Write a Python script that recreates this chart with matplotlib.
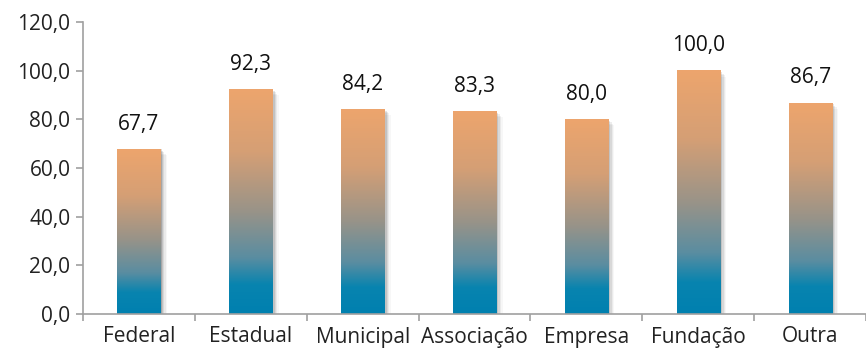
import numpy as np
import matplotlib
matplotlib.use("Agg")
import matplotlib.pyplot as plt
from matplotlib.colors import LinearSegmentedColormap
from matplotlib.patches import Rectangle

# --- data ---
categories = ["Federal", "Estadual", "Municipal", "Associação", "Empresa", "Fundação", "Outra"]
values = [67.7, 92.3, 84.2, 83.3, 80.0, 100.0, 86.7]
labels = ["67,7", "92,3", "84,2", "83,3", "80,0", "100,0", "86,7"]
yticks = [0, 20, 40, 60, 80, 100, 120]
ytick_labels = ["0,0", "20,0", "40,0", "60,0", "80,0", "100,0", "120,0"]

plt.rcParams['font.family'] = ['Open Sans', 'DejaVu Sans']

# --- gradient (bottom -> top) ---
grad = LinearSegmentedColormap.from_list("bar", [
    (0.00, "#0080B0"),
    (0.13, "#0884AF"),
    (0.25, "#5A8DA1"),
    (0.45, "#979389"),
    (0.72, "#D59F75"),
    (1.00, "#EDA56D"),
])

fig = plt.figure(figsize=(8.66, 3.49), dpi=100)
ax = fig.add_axes([83 / 866, 1 - 314 / 349, 1 - 83 / 866, (314 - 22) / 349])

x = np.arange(len(categories))
width = 0.385
g = np.linspace(0, 1, 256).reshape(-1, 1)

for xi, v, lab in zip(x, values, labels):
    # soft shadow
    for k, a in enumerate([0.14, 0.10, 0.07, 0.05, 0.03]):
        off = 0.01 + k * 0.012
        ax.add_patch(Rectangle((xi - width / 2 + off, -1), width, v + 1 - k * 0.6,
                               color="#000000", alpha=a, lw=0, zorder=1))
    ax.imshow(g, cmap=grad, origin="lower", aspect="auto",
              extent=[xi - width / 2, xi + width / 2, 0, v], zorder=2)
    ax.text(xi, v + 6, lab, ha="center", va="bottom", fontsize=15, color="#111111")

ax.set_xlim(-0.5, len(categories) - 0.5)
ax.set_ylim(0, 120)

ax.set_yticks(yticks)
ax.set_yticklabels(ytick_labels, fontsize=15, color="#222222")
ax.set_xticks(x)
ax.set_xticklabels(categories, fontsize=15, color="#222222")
ax.tick_params(axis="x", length=0, pad=9)
ax.set_xticks(np.arange(len(categories) + 1) - 0.5, minor=True)
ax.tick_params(axis="x", which="minor", length=5, color="#A0A0A0", width=1.2)
ax.tick_params(axis="y", length=5, color="#A0A0A0", width=1.2, pad=4)

for s in ["top", "right"]:
    ax.spines[s].set_visible(False)
for s in ["left", "bottom"]:
    ax.spines[s].set_color("#A0A0A0")
    ax.spines[s].set_linewidth(1.2)

fig.savefig("out.png", dpi=100)
